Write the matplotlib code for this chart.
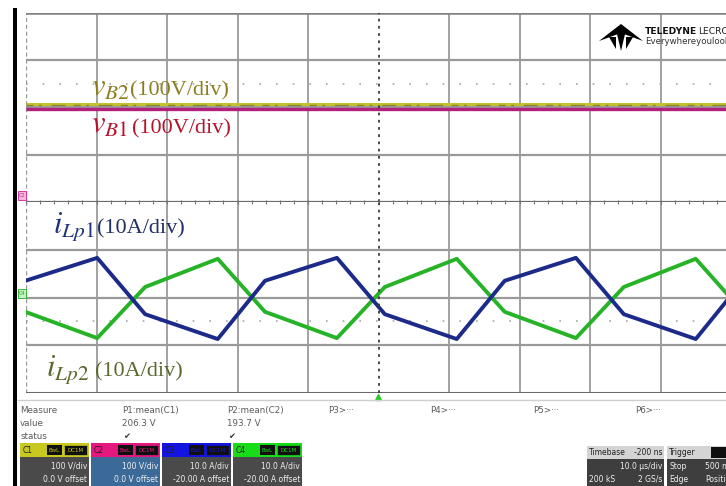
import matplotlib
matplotlib.use("Agg")
import matplotlib.pyplot as plt
from matplotlib.patches import Rectangle, Polygon

# ---------------- data ----------------
time_us = [-0.1, 10.1, 16.9, 27.2, 33.9, 44.1, 50.9, 61.1, 67.9, 78.0, 84.8, 95.0, 101.7]
i_Lp1 = [23.5, 28.3, 16.5, 11.3, 23.5, 28.3, 16.5, 11.3, 23.5, 28.3, 16.5, 11.3, 23.5]
i_Lp2 = [17.0, 11.5, 22.2, 28.1, 17.0, 11.5, 22.2, 28.1, 17.0, 11.5, 22.2, 28.1, 17.0]
v_time_us = [0, 100]
v_B2 = [208, 208]   # yellow trace (C1)
v_B1 = [197, 197]   # magenta trace (C2)

measure_headers = ["P1:mean(C1)", "P2:mean(C2)", "P3>\u00b7\u00b7\u00b7", "P4>\u00b7\u00b7\u00b7", "P5>\u00b7\u00b7\u00b7", "P6>\u00b7\u00b7\u00b7"]
measure_values = ["206.3 V", "193.7 V"]
channel_names = ["C1", "C2", "C3", "C4"]
channel_scales = ["100 V/div", "100 V/div", "10.0 A/div", "10.0 A/div"]
channel_offsets = ["0.0 V offset", "0.0 V offset", "-20.00 A offset", "-20.00 A offset"]

W, H = 726, 486
fig = plt.figure(figsize=(W / 100, H / 100), dpi=100)
fig.patch.set_facecolor("white")


def fx(x):
    return x / W


def fy(y):
    return 1 - y / H


GRID = "#9a9a9a"
left_px, right_px = 26, 731

ax_top = fig.add_axes([fx(left_px), fy(202), (right_px - left_px) / W, (202 - 13) / H])
ax_bot = fig.add_axes([fx(left_px), fy(393), (right_px - left_px) / W, (393 - 202) / H])

for ax, ylim, step, half in [(ax_top, (0, 400), 100, 250), (ax_bot, (0, 40), 10, 15)]:
    ax.set_xlim(0, 100)
    ax.set_ylim(*ylim)
    ax.set_facecolor("none")
    for s in ax.spines.values():
        s.set_visible(False)
    ax.set_xticks([])
    ax.set_yticks([])
    for xv in range(10, 100, 10):
        if xv == 50:
            continue
        ax.axvline(xv, color=GRID, lw=1.3, zorder=1)
    for yv in range(ylim[0] + step, ylim[1], step):
        ax.axhline(yv, color=GRID, lw=1.6, zorder=1)
    ax.axhline(half, color="#a8a8a8", lw=1.2, linestyle=(0, (1, 9)), zorder=1)
    ax.axvline(0, color="#9a9a9a", lw=1.0, linestyle=(0, (3, 2)), zorder=1)
    ax.axvline(50, color="#3a3a3a", lw=1.3, linestyle=(0, (1.5, 2.5)), zorder=4)

# borders
ax_top.axhline(400, color="#808080", lw=1.8, zorder=2)
ax_top.axhline(0, color="#6a6a6a", lw=1.6, zorder=2)
ax_bot.axhline(0, color="#6a6a6a", lw=2.2, zorder=2)
ax_bot.tick_params(axis="x", which="both", top=True, bottom=False, direction="inout",
                   length=3, color="#777777", labeltop=False, labelbottom=False)
ax_bot.set_xticks(list(range(0, 101, 2)))

# traces
ax_top.plot(v_time_us, v_B1, color="#B0207C", lw=2.4, zorder=3, solid_capstyle="butt")
ax_top.plot(v_time_us, v_B2, color="#C2C231", lw=2.2, zorder=3, solid_capstyle="butt")
ax_top.plot(v_time_us, [(a + 2 * b) / 3 for a, b in zip(v_B1, v_B2)], color="#4a3f2a", lw=1.0,
            linestyle=(0, (5, 4, 2, 7, 10, 6)), alpha=0.45, zorder=3)

ax_bot.plot(time_us, i_Lp2, color="#27B327", lw=2.8, zorder=3)
ax_bot.plot(time_us, i_Lp1, color="#1C2A8A", lw=2.8, zorder=3)

# annotations
SERIF = "Liberation Serif"
plt.rcParams["mathtext.fontset"] = "stix"
fig.text(fx(91), fy(96), r"$v_{B2}$", fontsize=22, color="#8C7E1E", ha="left", va="baseline")
fig.text(fx(130), fy(95), "(100V/div)", fontsize=16, color="#8C7E1E", family=SERIF, ha="left", va="baseline")
fig.text(fx(91), fy(133), r"$v_{B1}$", fontsize=22, color="#B4142D", ha="left", va="baseline")
fig.text(fx(132), fy(133), "(100V/div)", fontsize=16, color="#B4142D", family=SERIF, ha="left", va="baseline")
fig.text(fx(53), fy(233), r"$i_{Lp1}$", fontsize=22, color="#1F3478", ha="left", va="baseline")
fig.text(fx(97), fy(233), "(10A/div)", fontsize=16, color="#1F2F60", family=SERIF, ha="left", va="baseline")
fig.text(fx(46), fy(376), r"$i_{Lp2}$", fontsize=22, color="#5B6930", ha="left", va="baseline")
fig.text(fx(95), fy(376), "(10A/div)", fontsize=16, color="#5B6930", family=SERIF, ha="left", va="baseline")

# left black bar and channel markers
fig.patches.append(Rectangle((fx(13), fy(486)), 4 / W, (486 - 8) / H, transform=fig.transFigure,
                             facecolor="black", edgecolor="none"))
fig.patches.append(Rectangle((fx(18), fy(200)), 8 / W, 9 / H, transform=fig.transFigure,
                             facecolor="#f4b8dc", edgecolor="#d02090", lw=0.6))
fig.text(fx(22), fy(195.5), "C2", fontsize=3.5, color="#d02090", ha="center", va="center")
fig.patches.append(Rectangle((fx(18), fy(298)), 8 / W, 9 / H, transform=fig.transFigure,
                             facecolor="#c8f0c8", edgecolor="#20b020", lw=0.6))
fig.text(fx(22), fy(293.5), "C4", fontsize=3.5, color="#20a020", ha="center", va="center")

# trigger marker
fig.lines.append(plt.Line2D([fx(378)], [fy(397)], marker="^", color="#22cc22", markersize=5,
                            transform=fig.transFigure))

# measure table
fig.lines.append(plt.Line2D([fx(18), fx(726)], [fy(400), fy(400)], color="#cfcfcf", lw=1.0,
                            transform=fig.transFigure))
TXT = "#5a5a5a"
fig.text(fx(20), fy(410), "Measure", fontsize=6.3, color=TXT, va="center")
fig.text(fx(20), fy(423), "value", fontsize=6.3, color=TXT, va="center")
fig.text(fx(20), fy(436), "status", fontsize=6.3, color=TXT, va="center")
for x, hdr in zip([122, 227, 328, 430, 533, 635], measure_headers):
    fig.text(fx(x), fy(410), hdr, fontsize=6.3, color=TXT, va="center")
for x, val in zip([122, 227], measure_values):
    fig.text(fx(x), fy(423), val, fontsize=6.3, color=TXT, va="center")
    fig.text(fx(x + 1), fy(436), "\u2714", fontsize=6, color="#333333", va="center", family="DejaVu Sans")

# channel boxes
head_cols = ["#C8C820", "#E4187E", "#1414E0", "#18DC18"]
body_cols = ["#4a4a4a", "#3C6A98", "#4a4a4a", "#4a4a4a"]
box_x = [20, 91, 162, 233]
for x0, name, hc, bc, sc, off in zip(box_x, channel_names, head_cols, body_cols, channel_scales, channel_offsets):
    wbox = 69
    fig.patches.append(Rectangle((fx(x0), fy(457)), wbox / W, 14 / H, transform=fig.transFigure,
                                 facecolor=hc, edgecolor="none"))
    fig.patches.append(Rectangle((fx(x0), fy(486)), wbox / W, 29 / H, transform=fig.transFigure,
                                 facecolor=bc, edgecolor="none"))
    fig.text(fx(x0 + 3), fy(450), name, fontsize=5.5, color="#202020", va="center")
    fig.patches.append(Rectangle((fx(x0 + 27), fy(455)), 15 / W, 10 / H, transform=fig.transFigure,
                                 facecolor="#101010", edgecolor="none"))
    fig.patches.append(Rectangle((fx(x0 + 44), fy(455)), 23 / W, 10 / H, transform=fig.transFigure,
                                 facecolor="#101010", edgecolor=hc, lw=0.5))
    fig.text(fx(x0 + 34.5), fy(450), "BwL", fontsize=4, color=hc, va="center", ha="center")
    fig.text(fx(x0 + 55.5), fy(450), "DC1M", fontsize=4, color=hc, va="center", ha="center")
    fig.text(fx(x0 + wbox - 2), fy(466), sc, fontsize=5.5, color="#f0f0f0", va="center", ha="right")
    fig.text(fx(x0 + wbox - 2), fy(479), off, fontsize=5.5, color="#f0f0f0", va="center", ha="right")

# timebase / trigger boxes
for x0, wbox in [(587, 77), (667, 62)]:
    fig.patches.append(Rectangle((fx(x0), fy(459)), wbox / W, 13 / H, transform=fig.transFigure,
                                 facecolor="#d4d4d4", edgecolor="none"))
    fig.patches.append(Rectangle((fx(x0), fy(486)), wbox / W, 27 / H, transform=fig.transFigure,
                                 facecolor="#3e3e3e", edgecolor="none"))
fig.text(fx(589), fy(452.5), "Timebase", fontsize=5.5, color="#202020", va="center")
fig.text(fx(662), fy(452.5), "-200 ns", fontsize=5.5, color="#202020", va="center", ha="right")
fig.text(fx(662), fy(466), "10.0 \u00b5s/div", fontsize=5.5, color="#f0f0f0", va="center", ha="right")
fig.text(fx(589), fy(479), "200 kS", fontsize=5.5, color="#f0f0f0", va="center")
fig.text(fx(662), fy(479), "2 GS/s", fontsize=5.5, color="#f0f0f0", va="center", ha="right")
fig.text(fx(669), fy(452.5), "Trigger", fontsize=5.5, color="#202020", va="center")
fig.patches.append(Rectangle((fx(711), fy(458)), 15 / W, 11 / H, transform=fig.transFigure,
                             facecolor="#101010", edgecolor="none"))
fig.text(fx(669), fy(466), "Stop", fontsize=5.5, color="#f0f0f0", va="center")
fig.text(fx(705), fy(466), "500 mV", fontsize=5.5, color="#f0f0f0", va="center")
fig.text(fx(669), fy(479), "Edge", fontsize=5.5, color="#f0f0f0", va="center")
fig.text(fx(705), fy(479), "Positive", fontsize=5.5, color="#f0f0f0", va="center")

# logo
logo_polys = [
    [(599, 41), (621, 24), (621, 33)],
    [(643, 41), (621, 24), (621, 33)],
    [(617, 34), (621, 29), (625, 34), (621, 51)],
    [(609, 37), (616, 37), (616, 49)],
    [(633, 37), (626, 37), (626, 49)],
]
for pts in logo_polys:
    fig.patches.append(Polygon([(fx(a), fy(b)) for a, b in pts], closed=True, transform=fig.transFigure,
                               facecolor="black", edgecolor="none"))
fig.text(fx(645), fy(31), "TELEDYNE", fontsize=6.6, fontweight="bold", color="#111111", va="center",
         family="Liberation Sans Narrow")
fig.text(fx(698), fy(31), "LECROY", fontsize=6.6, color="#222222", va="center", family="Liberation Sans Narrow")
fig.text(fx(645), fy(42), "Everywhereyoulook", fontsize=6.2, color="#333333", va="center",
         family="Liberation Sans Narrow")

fig.savefig("out.png", dpi=100)
